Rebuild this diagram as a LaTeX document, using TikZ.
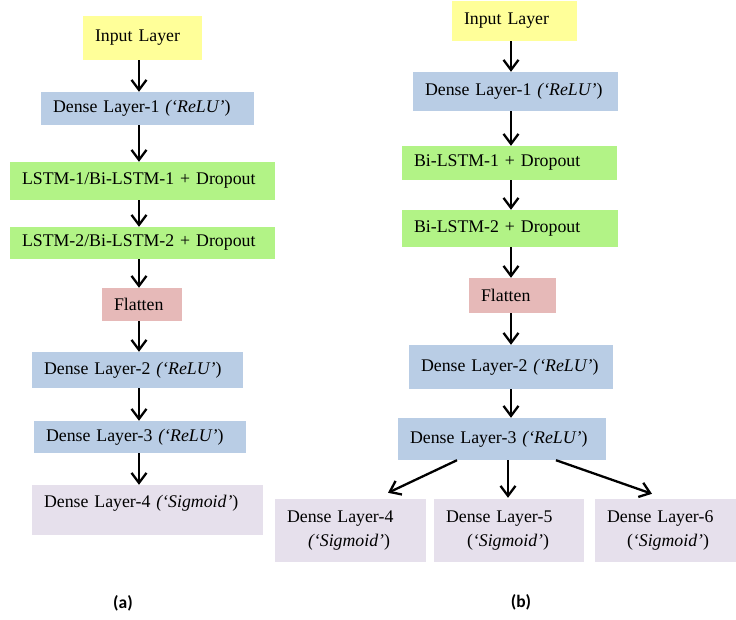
\documentclass[tikz,border=0pt]{standalone}
\usepackage{fontspec}
\setmainfont{Liberation Serif}
\newfontfamily\capfont{Carlito}
\usetikzlibrary{arrows.meta}
\definecolor{inyel}{HTML}{FFFF99}
\definecolor{dnblue}{HTML}{B9CDE5}
\definecolor{lsgreen}{HTML}{B2F386}
\definecolor{flpink}{HTML}{E6B9B8}
\definecolor{sgpurp}{HTML}{E6E0EC}

\begin{document}
\begin{tikzpicture}[x=1pt,y=-1pt,
  box/.style={inner xsep=12pt, inner ysep=0pt, align=left, font=\fontsize{17.8}{21}\selectfont},
  arr/.style={line width=2.3pt, -{Straight Barb[length=10pt,width=15pt]}},
  sublabel/.style={font=\capfont\bfseries\fontsize{17.5}{20}\selectfont}]
  \useasboundingbox (0,0) rectangle (736,620);
  \coordinate (colA) at (139,0);
  \coordinate (colB) at (511,0);

  % (a)
  \node[box, fill=inyel,   text width=95,  minimum height=44] (inA) at (142.5,38)  {Input Layer};
  \node[box, fill=dnblue,  text width=189, minimum height=33] (dA1) at (147.5,108.5) {Dense Layer-1 \textit{(‘ReLU’})};
  \node[box, fill=lsgreen, text width=241, minimum height=38] (lA1) at (142.5,181) {LSTM-1/Bi-LSTM-1 + Dropout};
  \node[box, fill=lsgreen, text width=241, minimum height=32] (lA2) at (142.5,243) {LSTM-2/Bi-LSTM-2 + Dropout};
  \node[box, fill=flpink,  text width=56,  minimum height=33] (fA)  at (142,304.5) {Flatten};
  \node[box, fill=dnblue,  text width=187, minimum height=36] (dA2) at (137.5,370) {Dense Layer-2 \textit{(‘ReLU’})};
  \node[box, fill=dnblue,  text width=188, minimum height=32] (dA3) at (140,437)   {Dense Layer-3 \textit{(‘ReLU’})};
  \node[box, fill=sgpurp,  text width=207, minimum height=50, text depth=17pt] (dA4) at (147.5,510) {Dense Layer-4 \textit{(‘Sigmoid’})};
  \node[sublabel] (capA) at (123,603) {(a)};

  \draw[arr] (inA.south -| colA) -- (dA1.north -| colA);
  \draw[arr] (dA1.south -| colA) -- (lA1.north -| colA);
  \draw[arr] (lA1.south -| colA) -- (lA2.north -| colA);
  \draw[arr] (lA2.south -| colA) -- (fA.north -| colA);
  \draw[arr] (fA.south -| colA)  -- (dA2.north -| colA);
  \draw[arr] (dA2.south -| colA) -- (dA3.north -| colA);
  \draw[arr] (dA3.south -| colA) -- (dA4.north -| colA);

  % (b)
  \node[box, fill=inyel,   text width=101, minimum height=40] (inB) at (514.5,21)  {Input Layer};
  \node[box, fill=dnblue,  text width=181, minimum height=39] (dB1) at (515.5,91.5) {Dense Layer-1 \textit{(‘ReLU’})};
  \node[box, fill=lsgreen, text width=191, minimum height=34] (bB1) at (509.5,163) {Bi-LSTM-1 + Dropout};
  \node[box, fill=lsgreen, text width=192, minimum height=37] (bB2) at (510,228.5) {Bi-LSTM-2 + Dropout};
  \node[box, fill=flpink,  text width=63,  minimum height=35] (fB)  at (512.5,295.5) {Flatten};
  \node[box, fill=dnblue,  text width=180, minimum height=44] (dB2) at (511,367)   {Dense Layer-2 \textit{(‘ReLU’})};
  \node[box, fill=dnblue,  text width=184, minimum height=42] (dB3) at (502,439)   {Dense Layer-3 \textit{(‘ReLU’})};
  \node[box, fill=sgpurp,  text width=127, minimum height=63] (dB4) at (350.5,530.5) {Dense Layer-4\\[3pt]\hspace*{21pt}\textit{(‘Sigmoid’})};
  \node[box, fill=sgpurp,  text width=126, minimum height=63] (dB5) at (509,530.5)   {Dense Layer-5\\[3pt]\hspace*{21pt}(\textit{‘Sigmoid’})};
  \node[box, fill=sgpurp,  text width=117, minimum height=63] (dB6) at (665.5,530.5) {Dense Layer-6\\[3pt]\hspace*{20pt}(\textit{‘Sigmoid’})};
  \node[sublabel] (capB) at (521,602) {(b)};

  \draw[arr] (inB.south -| colB) -- (dB1.north -| colB);
  \draw[arr] (dB1.south -| colB) -- (bB1.north -| colB);
  \draw[arr] (bB1.south -| colB) -- (bB2.north -| colB);
  \draw[arr] (bB2.south -| colB) -- (fB.north -| colB);
  \draw[arr] (fB.south -| colB)  -- (dB2.north -| colB);
  \draw[arr] (dB2.south -| colB) -- (dB3.north -| colB);
  \draw[arr] ([xshift=-45pt]dB3.south) -- ([xshift=37.5pt,yshift=6pt]dB4.north);
  \draw[arr] ([xshift=6pt]dB3.south)   -- ([xshift=-1pt,yshift=1pt]dB5.north);
  \draw[arr] ([xshift=54pt]dB3.south)  -- ([xshift=-13.5pt,yshift=5pt]dB6.north);
\end{tikzpicture}
\end{document}
